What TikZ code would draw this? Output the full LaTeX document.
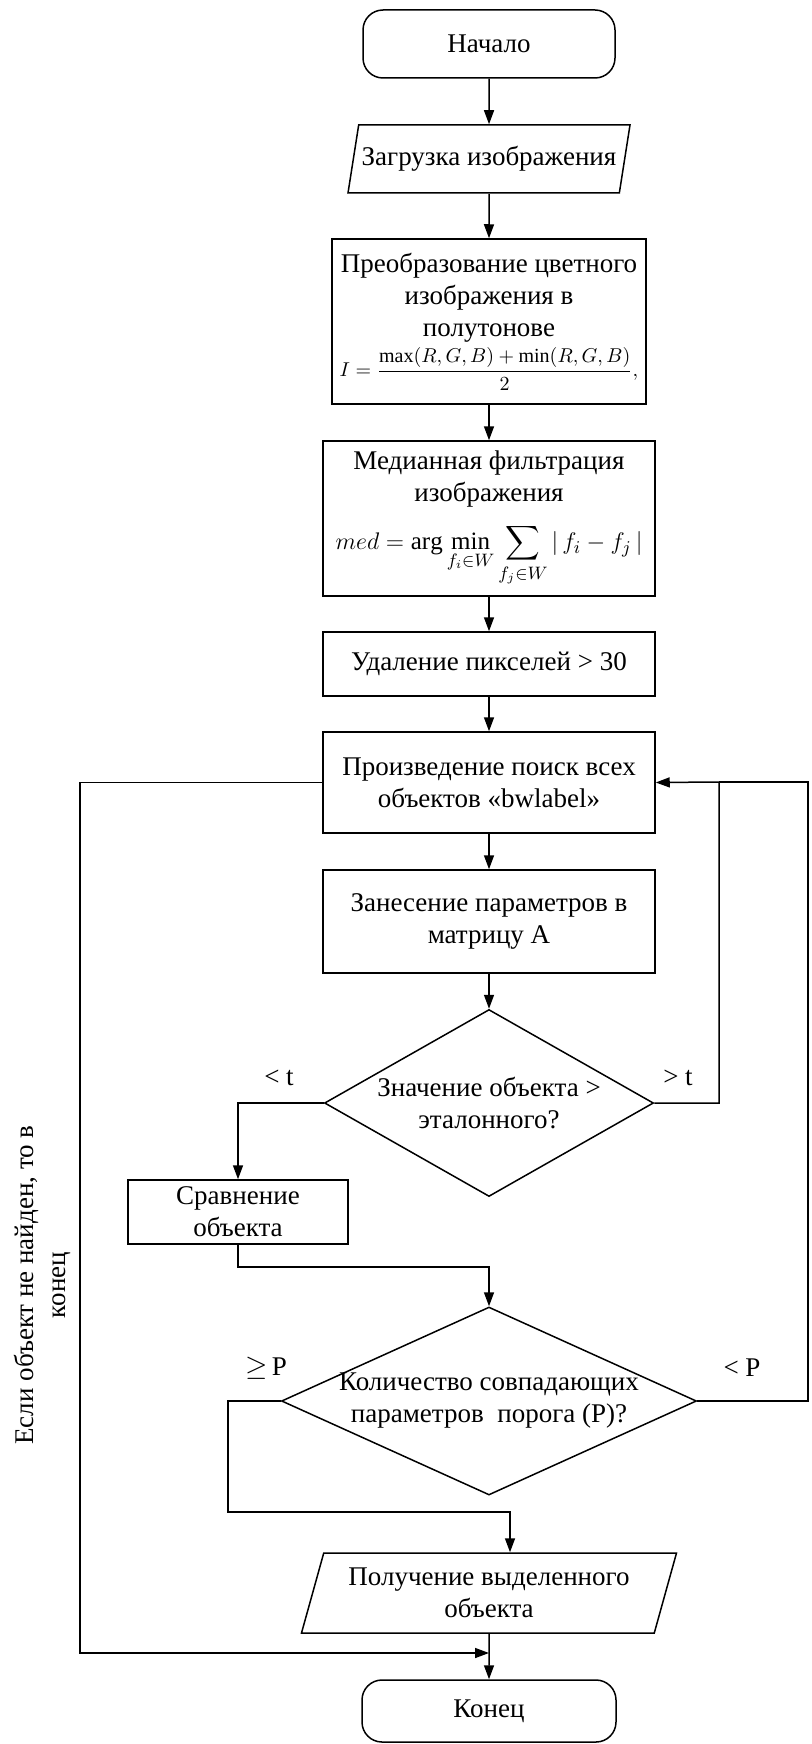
\documentclass[tikz,border=0pt]{standalone}
\usepackage{fontspec}
\setmainfont{Liberation Serif}
\usepackage{amsmath}
\usetikzlibrary{positioning, arrows.meta, shapes.geometric}

\begin{document}
\begin{tikzpicture}[x=0.5pt, y=-0.5pt, >={Stealth[length=7pt, width=5pt, inset=0pt]},
    font=\fontsize{13.5}{16}\selectfont, line width=0.75pt,
    terminal/.style={draw, rounded corners=10pt, minimum width=126pt, minimum height=34pt, inner sep=0pt},
    io/.style={draw, trapezium, trapezium left angle=67, trapezium right angle=113, trapezium stretches body, minimum height=34pt, inner sep=0pt, align=center},
    process/.style={draw, rectangle, minimum width=166pt, align=center, inner sep=1pt},
    decision/.style={draw, diamond, inner sep=0pt}]
  \useasboundingbox (0,0) rectangle (811,1744);

  \node[terminal] (start) at (489,44) {Начало};
  \node[io, minimum width=141pt] (load) at (489,159) {Загрузка изображения};
  \node[process, minimum width=157pt, minimum height=82.5pt] (gray) at (489,321.5) {Преобразование цветного\\изображения в\\полутонове\\[2pt]{\fontsize{10}{12}\selectfont$I=\dfrac{\max(R,G,B)+\min(R,G,B)}{2},$}};
  \node[process, minimum height=77.5pt] (median) at (489,518.5) {Медианная фильтрация\\изображения\\[8pt]{\fontsize{12.5}{14}\selectfont$\displaystyle med=\arg\min_{f_i\in W}\sum_{f_j\in W}|\,f_i-f_j\,|$}};
  \node[process, minimum height=32pt] (remove) at (489,664) {Удаление пикселей > 30};
  \node[process, minimum height=50.5pt] (search) at (489,782.5) {Произведение поиск всех\\объектов «bwlabel»};
  \node[process, minimum height=51.5pt] (store) at (489,921.5) {Занесение параметров в\\матрицу А};
  \node[decision, minimum width=164.5pt, minimum height=93.5pt, label={[align=center]center:{Значение объекта >\\эталонного?}}] (check) at (489,1103) {};
  \node[process, minimum width=110pt, minimum height=32pt] (compare) at (238,1212) {Сравнение\\объекта};
  \node[decision, minimum width=207.5pt, minimum height=94pt, label={[align=center]center:{Количество совпадающих\\параметров\ \ порога (P)?}}] (count) at (489,1401) {};
  \node[io, trapezium left angle=66, trapezium right angle=114, minimum width=187.5pt, minimum height=40pt] (result) at (489,1593) {Получение выделенного\\объекта};
  \node[terminal, minimum width=127pt, minimum height=31pt] (stop) at (489,1711) {Конец};

  % branch labels
  \node (lt) at (279,1078) {< t};
  \node (gt) at (678,1078) {> t};
  \node (ge) at (266,1368) {$\geq$\,P};
  \node (lp) at (742,1368) {< P};
  \node[rotate=90, align=center] (note) at (42,1285) {Если объект не найден, то в\\конец};

  % bends of the loops
  \coordinate (jr) at (719,782);
  \coordinate (jo) at (808,782);
  \coordinate (jb) at (80,1653);
  \coordinate (jm) at (489,1653);
  \coordinate (jc) at (489,1267);
  \coordinate (jd) at (228,1512);
  \coordinate (je) at (510,1512);

  \draw[->] (start) -- (load);
  \draw[->] (load) -- (gray);
  \draw[->] (gray) -- (median);
  \draw[->] (median) -- (remove);
  \draw[->] (remove) -- (search);
  \draw[->] (search) -- (store);
  \draw[->] (store) -- (check);
  \draw[->] (check.west) -| (compare.north);
  \draw[->] (check.east) -| (jr) -- (search.east);
  \draw[->] (compare.south) |- (jc) -- (count.north);
  \draw (count.east) -| (jo) -- (jr);
  \draw[->] (count.west) -| (jd) -- (je) -- (je |- result.north);
  \draw[->] (result) -- (stop);
  \draw[->] (search.west) -| (jb) -- (jm);
\end{tikzpicture}
\end{document}
